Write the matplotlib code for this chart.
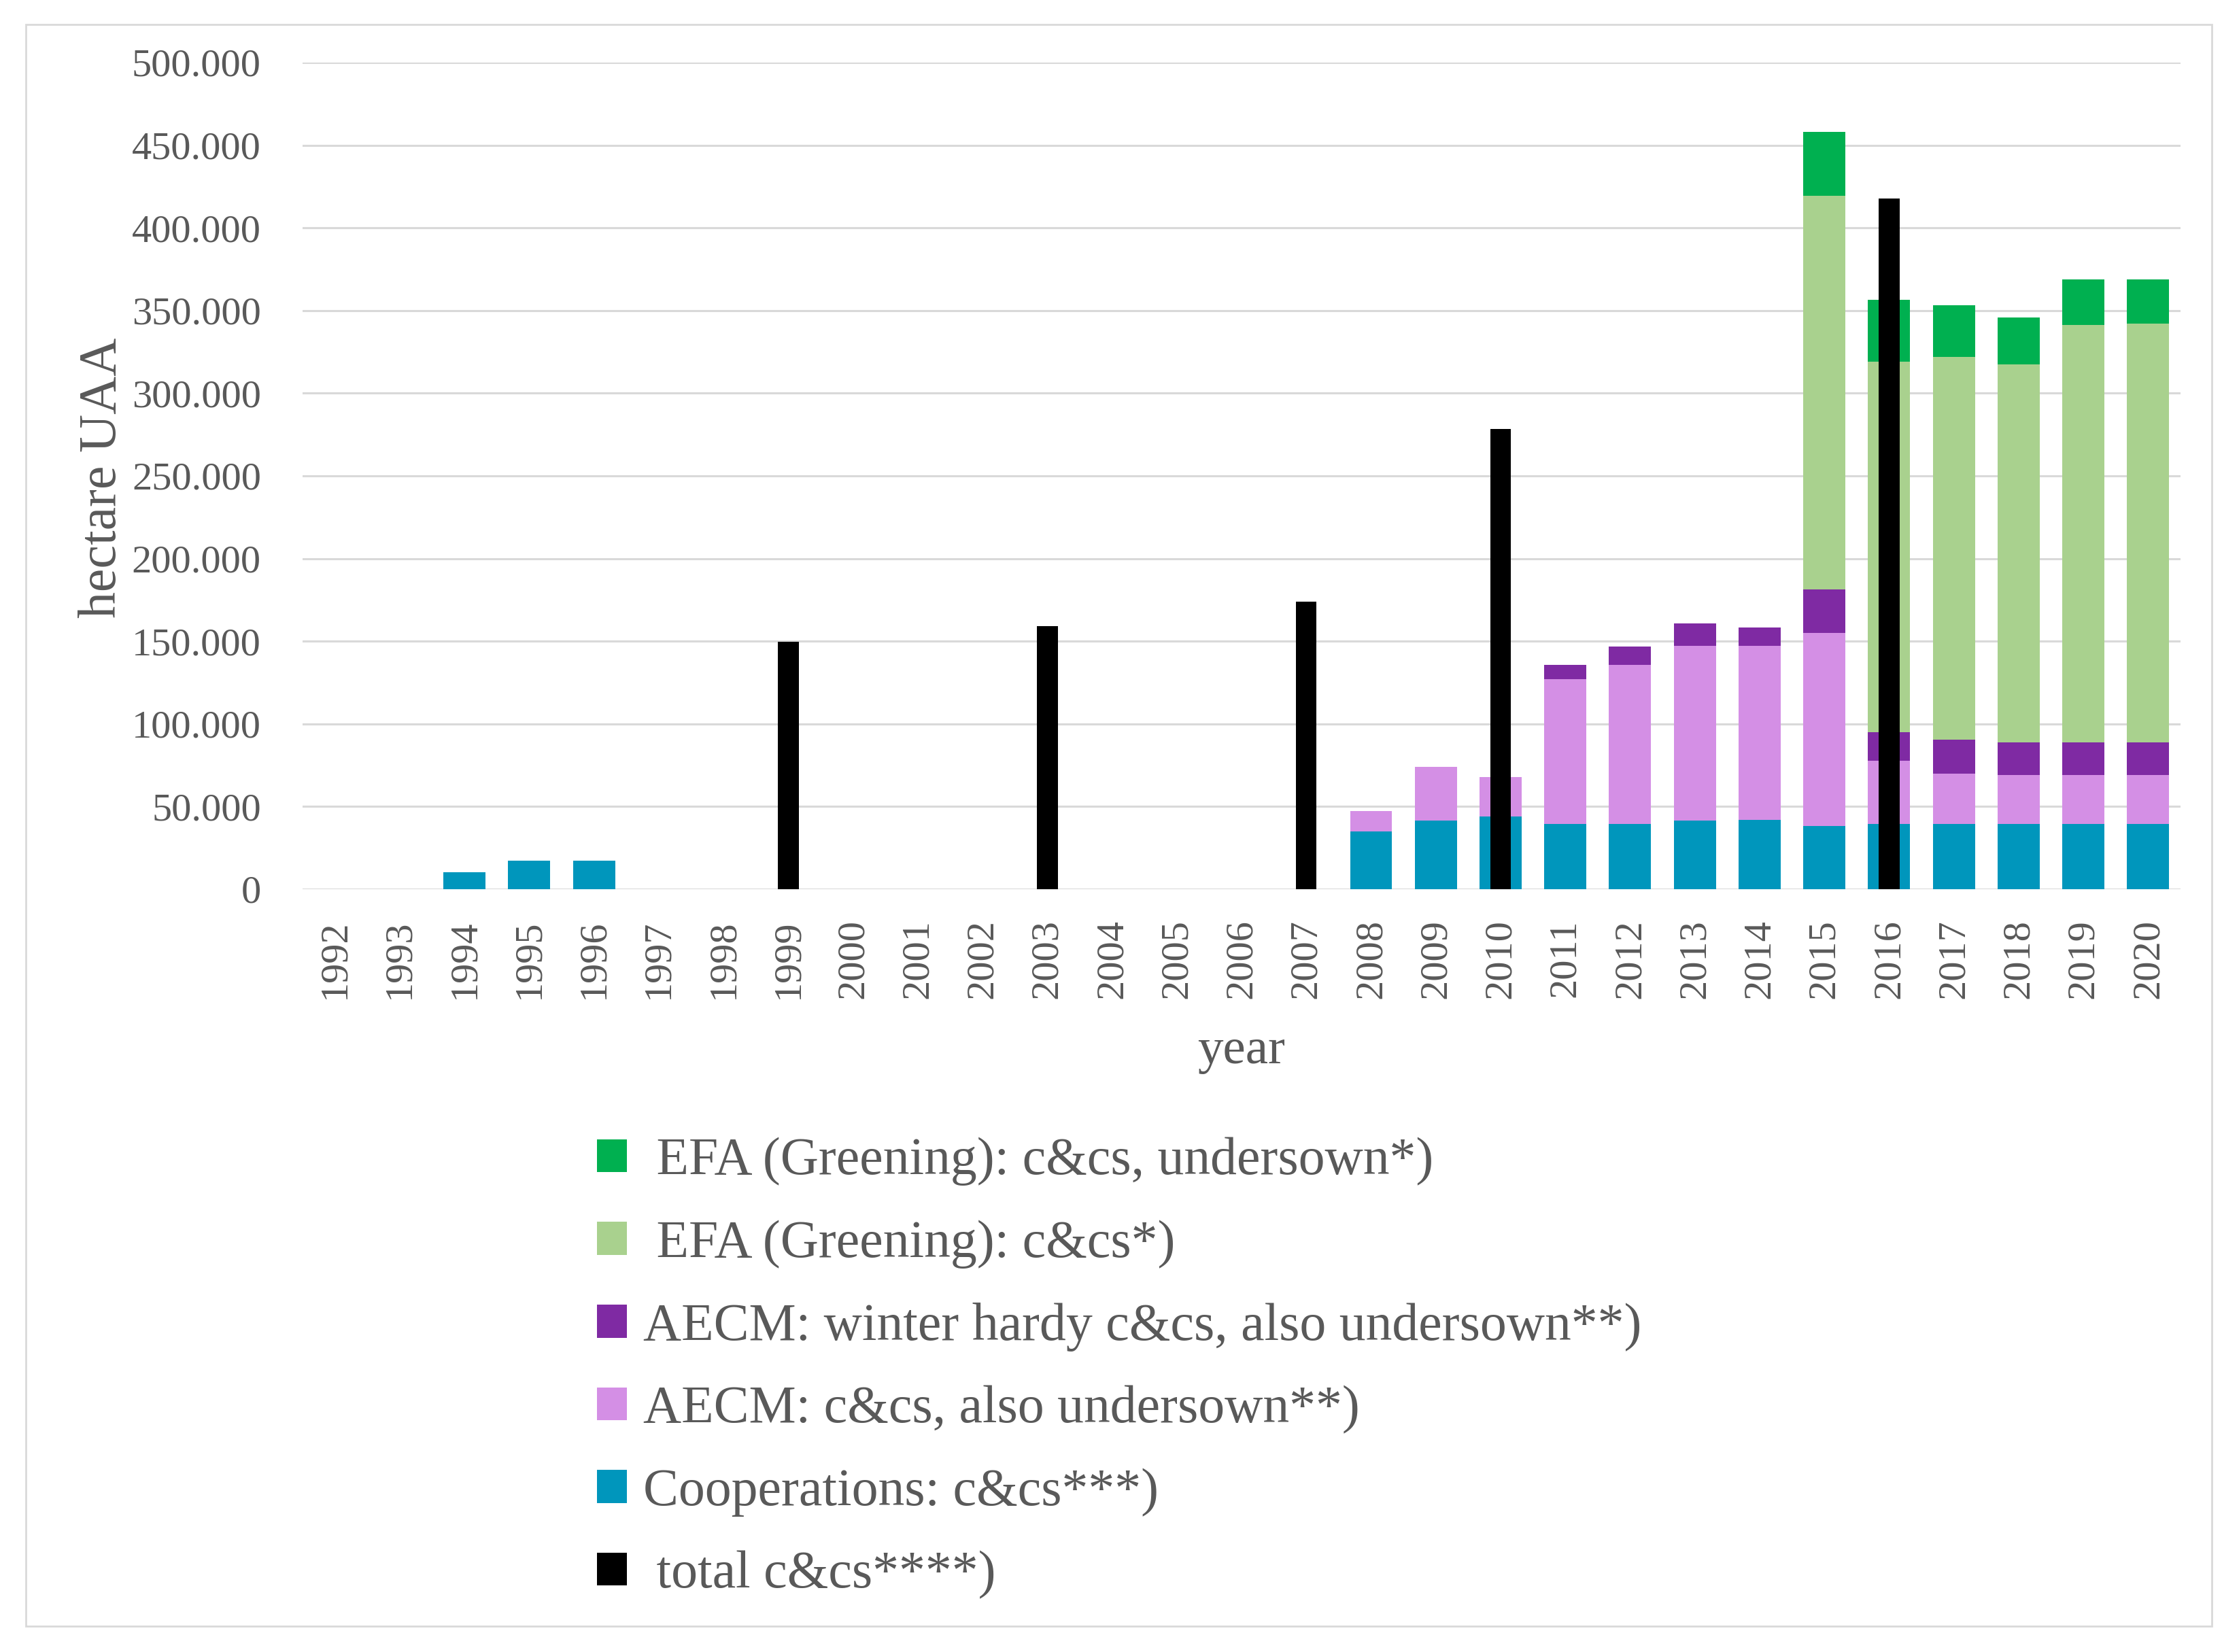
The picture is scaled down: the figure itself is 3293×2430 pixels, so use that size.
import numpy as np
import matplotlib
matplotlib.use("Agg")
import matplotlib.pyplot as plt
from matplotlib.patches import Patch, Rectangle
from matplotlib.ticker import FuncFormatter, MultipleLocator

# ---------------- data (hectare UAA) ----------------
years = [str(y) for y in range(1992, 2021)]

cooperations = [0, 0, 10300, 17200, 17200, 0, 0, 0, 0, 0, 0, 0, 0, 0, 0, 0,
                35100, 41700, 43800, 39600, 39600, 41600, 42000, 38400, 39600,
                39600, 39600, 39600, 39600]
aecm_cc = [0, 0, 0, 0, 0, 0, 0, 0, 0, 0, 0, 0, 0, 0, 0, 0,
           12000, 32200, 23900, 87500, 96200, 105500, 105100, 116700, 38200,
           30400, 29500, 29500, 29500]
aecm_winter = [0, 0, 0, 0, 0, 0, 0, 0, 0, 0, 0, 0, 0, 0, 0, 0,
               0, 0, 0, 8400, 11000, 13800, 11300, 26300, 17100,
               20600, 19700, 19700, 19700]
efa_cc = [0, 0, 0, 0, 0, 0, 0, 0, 0, 0, 0, 0, 0, 0, 0, 0,
          0, 0, 0, 0, 0, 0, 0, 238200, 224300, 231200, 228600, 252500, 253100]
efa_undersown = [0, 0, 0, 0, 0, 0, 0, 0, 0, 0, 0, 0, 0, 0, 0, 0,
                 0, 0, 0, 0, 0, 0, 0, 38400, 37300, 31500, 28300, 27500, 26900]
total_cc = [0, 0, 0, 0, 0, 0, 0, 149500, 0, 0, 0, 159000, 0, 0, 0, 173800,
            0, 0, 278200, 0, 0, 0, 0, 0, 417700, 0, 0, 0, 0]

labels = [" EFA (Greening): c&cs, undersown*)",
          " EFA (Greening): c&cs*)",
          "AECM: winter hardy c&cs, also undersown**)",
          "AECM: c&cs, also undersown**)",
          "Cooperations: c&cs***)",
          " total c&cs****)"]
colors = ["#00B050", "#A9D18E", "#7F2AA3", "#D48FE5", "#0096BC", "#000000"]

# ---------------- figure ----------------
FONT = "Liberation Serif"
TXT = "#595959"
plt.rcParams["font.family"] = [FONT, "DejaVu Serif"]

W, H = 3293, 2430
DPI = 200
fig = plt.figure(figsize=(W / DPI, H / DPI), dpi=DPI)
fig.patch.set_facecolor("white")

# outer chart border
fig.patches.append(Rectangle((38 / W, 1 - 2392 / H), (3253 - 38) / W, (2392 - 36) / H,
                             transform=fig.transFigure, fill=False,
                             edgecolor="#D9D9D9", linewidth=1.0))

ax_l, ax_r, ax_t, ax_b = 445, 3207, 92, 1308
ax = fig.add_axes([ax_l / W, 1 - ax_b / H, (ax_r - ax_l) / W, (ax_b - ax_t) / H])

x = np.arange(len(years))
wide = 0.65
narrow = 0.32

stack = [cooperations, aecm_cc, aecm_winter, efa_cc, efa_undersown]
stack_colors = [colors[4], colors[3], colors[2], colors[1], colors[0]]
bottom = np.zeros(len(years))
for vals, c in zip(stack, stack_colors):
    v = np.array(vals, dtype=float)
    ax.bar(x, v, width=wide, bottom=bottom, color=c, zorder=2, linewidth=0)
    bottom += v

ax.bar(x, np.array(total_cc, dtype=float), width=narrow, color=colors[5], zorder=3, linewidth=0)

ax.set_xlim(-0.5, len(years) - 0.5)
ax.set_ylim(0, 500000)
ax.yaxis.set_major_locator(MultipleLocator(50000))
ax.yaxis.set_major_formatter(FuncFormatter(
    lambda v, p: "0" if v == 0 else f"{int(v):,}".replace(",", ".")))
ax.set_xticks(x)
ax.set_xticklabels(years, rotation=90)

ax.grid(axis="y", color="#D9D9D9", linewidth=1.1, zorder=0)
ax.set_axisbelow(True)
for s in ["top", "right", "left", "bottom"]:
    ax.spines[s].set_visible(False)
ax.tick_params(axis="both", length=0, labelsize=21, labelcolor=TXT)
ax.tick_params(axis="y", pad=22)
ax.tick_params(axis="x", pad=16)

fig.text(170 / W, 1 - 703 / H, "hectare UAA", rotation=90, rotation_mode="anchor",
         ha="center", va="baseline", fontsize=28, color=TXT)
fig.text(1826 / W, 1 - 1564 / H, "year", ha="center", va="baseline",
         fontsize=27, color=TXT)

handles = [Patch(facecolor=c, edgecolor="none") for c in colors]
leg = fig.legend(handles, labels, loc="upper left",
                 bbox_to_anchor=(878 / W, 1 - 1673 / H),
                 frameon=False, fontsize=28, labelcolor=TXT,
                 handlelength=0.56, handleheight=0.58, handletextpad=0.32,
                 labelspacing=0.643, borderpad=0, borderaxespad=0)

fig.savefig("out.png", dpi=DPI, facecolor="white")
